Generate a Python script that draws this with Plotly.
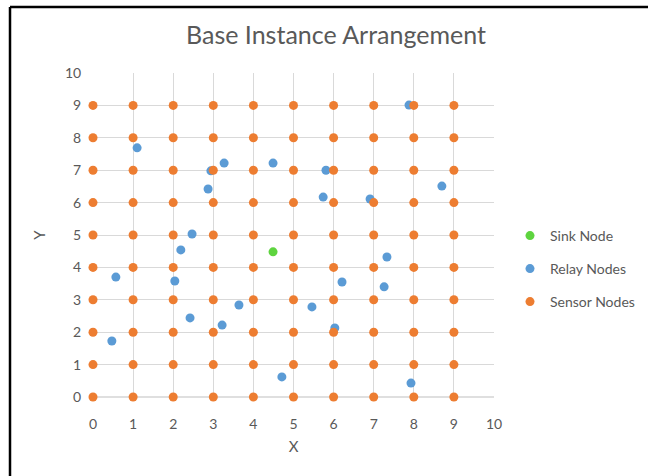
import plotly.graph_objects as go

# ---- data ----
sensor_x = [x for y in range(10) for x in range(10)]
sensor_y = [y for y in range(10) for x in range(10)]

relay_x = [1.10, 0.57, 0.47, 2.19, 2.47, 2.04, 2.42, 3.22, 3.64, 2.87, 2.94, 3.27,
           4.49, 5.81, 5.74, 6.91, 7.88, 8.70, 7.33, 6.21, 7.26, 5.46, 6.03, 4.71, 7.93]
relay_y = [7.69, 3.70, 1.73, 4.54, 5.03, 3.58, 2.44, 2.22, 2.84, 6.42, 6.98, 7.22,
           7.22, 7.00, 6.17, 6.11, 9.01, 6.51, 4.32, 3.55, 3.40, 2.78, 2.13, 0.62, 0.43]

sink_x = [4.49]
sink_y = [4.48]

ticks = list(range(0, 11))

TXT = "#595959"
FONT = "Lato, 'Open Sans', sans-serif"

fig = go.Figure()
fig.add_trace(go.Scatter(x=sink_x, y=sink_y, mode="markers", name="Sink Node",
                         marker=dict(color="#5ED43F", size=9), legend="legend",
                         showlegend=True, cliponaxis=False))
fig.add_trace(go.Scatter(x=relay_x, y=relay_y, mode="markers", name="Relay Nodes",
                         marker=dict(color="#5B9BD5", size=9), legend="legend2",
                         showlegend=True, cliponaxis=False))
fig.add_trace(go.Scatter(x=sensor_x, y=sensor_y, mode="markers", name="Sensor Nodes",
                         marker=dict(color="#ED7D31", size=9), legend="legend3",
                         showlegend=True, cliponaxis=False))

# plot area: x 93..494, y 73..397
W, H = 648, 476
L, R, T, B = 93, 154, 73, 79
pw, ph = W - L - R, H - T - B

def px(x):
    return (x - L) / pw

def py(y):
    return 1 - (y - T) / ph

axis_common = dict(range=[0, 10], tickmode="array", tickvals=ticks,
                   showgrid=True, gridcolor="#D9D9D9", gridwidth=1,
                   zeroline=False, showline=False,
                   tickfont=dict(color=TXT, size=14, family=FONT),
                   ticks="outside", tickcolor="rgba(0,0,0,0)",
                   fixedrange=True)

leg = dict(font=dict(color=TXT, size=14, family=FONT), bgcolor="rgba(0,0,0,0)",
           xanchor="left", yanchor="middle", itemsizing="trace")

fig.update_layout(
    width=W, height=H,
    margin=dict(l=L, r=R, t=T, b=B, autoexpand=False),
    paper_bgcolor="white", plot_bgcolor="white",
    title=dict(text="Base Instance Arrangement", x=px(336), xanchor="center",
               xref="paper", y=1 - 35 / H, yanchor="middle",
               font=dict(color=TXT, size=25, family=FONT)),
    xaxis=dict(axis_common, ticklen=14,
               title=dict(text="X", font=dict(color=TXT, size=15, family=FONT), standoff=10)),
    yaxis=dict(axis_common, ticklen=8,
               title=dict(text="Y", font=dict(color=TXT, size=15, family=FONT), standoff=15)),
    legend=dict(leg, x=px(510), y=py(236)),
    legend2=dict(leg, x=px(510), y=py(269)),
    legend3=dict(leg, x=px(510), y=py(302)),
    shapes=[
        dict(type="line", xref="paper", yref="paper", x0=px(10), x1=px(660), y0=py(7), y1=py(7),
             line=dict(color="black", width=2.5)),
        dict(type="line", xref="paper", yref="paper", x0=px(10), x1=px(10), y0=py(7), y1=py(490),
             line=dict(color="black", width=2.5)),
        dict(type="line", xref="paper", yref="paper", x0=0, x1=1, y0=0, y1=0,
             line=dict(color="#BFBFBF", width=1), layer="below"),
    ],
)

fig.write_html("out.html")
